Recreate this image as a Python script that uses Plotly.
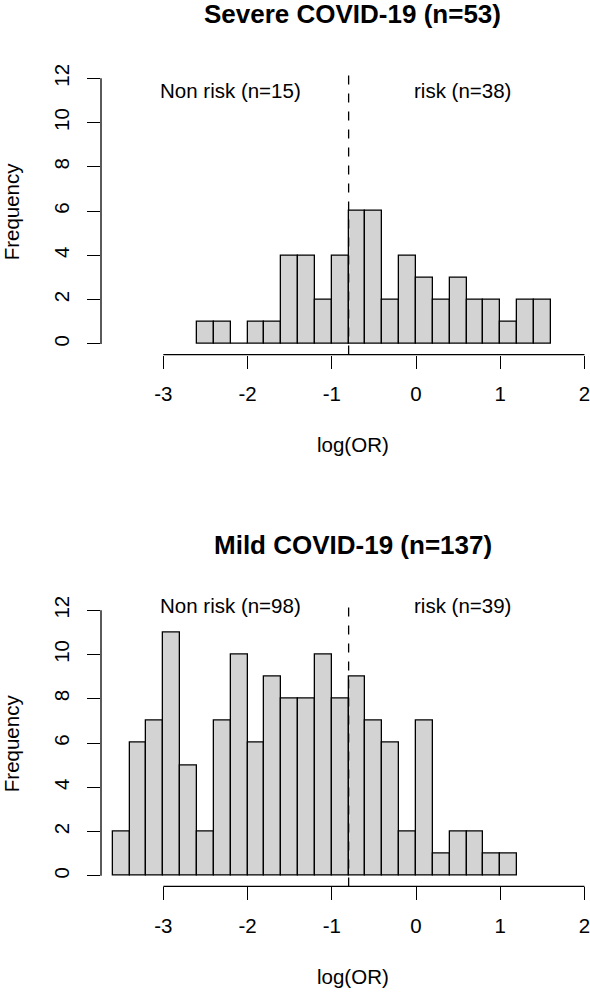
import plotly.graph_objects as go

# ---- data ----
bin_width = 0.2
severe_left_edges = [-2.6, -2.4, -2.2, -2.0, -1.8, -1.6, -1.4, -1.2, -1.0, -0.8, -0.6,
                     -0.4, -0.2, 0.0, 0.2, 0.4, 0.6, 0.8, 1.0, 1.2, 1.4]
severe_counts = [1, 1, 0, 1, 1, 4, 4, 2, 4, 6, 6, 2, 4, 3, 2, 3, 2, 2, 1, 2, 2]

mild_left_edges = [-3.6, -3.4, -3.2, -3.0, -2.8, -2.6, -2.4, -2.2, -2.0, -1.8, -1.6, -1.4,
                   -1.2, -1.0, -0.8, -0.6, -0.4, -0.2, 0.0, 0.2, 0.4, 0.6, 0.8, 1.0]
mild_counts = [2, 6, 7, 11, 5, 2, 7, 10, 6, 9, 8, 8, 10, 8, 9, 7, 6, 2, 7, 1, 2, 2, 1, 1]

cutoff = -0.8
x_ticks = [-3, -2, -1, 0, 1, 2]
y_ticks = [0, 2, 4, 6, 8, 10, 12]

titles = ["Severe COVID-19 (n=53)", "Mild COVID-19 (n=137)"]
left_labels = ["Non risk (n=15)", "Non risk (n=98)"]
right_labels = ["risk (n=38)", "risk (n=39)"]
label_y = [11.45, 12.2]

# ---- layout constants ----
W, H = 590, 992
L = 101
FONT = "Liberation Sans"
FS = 20.5
xr = [-3.74, -3.74 + (W - L) / 84.4]
yr = [-0.48, 12.48]
panels = [(64, 352), (598, 886)]   # pixel top/bottom of each plot region
title_px = [10, 543]

fig = go.Figure()
layout_axes = {}
annotations = []
shapes = []

datasets = [(severe_left_edges, severe_counts), (mild_left_edges, mild_counts)]
for i, ((edges, counts), (ptop, pbot)) in enumerate(zip(datasets, panels)):
    xa = "x" if i == 0 else "x2"
    ya = "y" if i == 0 else "y2"
    centers = [e + bin_width / 2 for e in edges]
    fig.add_trace(go.Bar(
        x=centers, y=counts, width=bin_width,
        marker=dict(color="#d3d3d3", line=dict(color="black", width=1.3)),
        xaxis=xa, yaxis=ya, showlegend=False, hoverinfo="x+y",
    ))
    dom = [1 - pbot / H, 1 - ptop / H]
    xkey = "xaxis" if i == 0 else "xaxis2"
    ykey = "yaxis" if i == 0 else "yaxis2"
    layout_axes[xkey] = dict(
        range=xr, anchor=ya, showgrid=False, zeroline=False, showline=False,
        ticks="outside", ticklen=13, tickwidth=1.3, tickcolor="black",
        tickvals=x_ticks, ticktext=[str(v) for v in x_ticks],
        tickfont=dict(family=FONT, size=FS, color="black"),
        ticklabelstandoff=8, ticklabeloverflow="allow",
    )
    layout_axes[ykey] = dict(
        range=yr, domain=dom, anchor=xa, showgrid=False, zeroline=False, showline=False,
        ticks="outside", ticklen=13, tickwidth=1.3, tickcolor="black",
        tickvals=y_ticks, ticktext=[str(v) for v in y_ticks], tickangle=-90,
        tickfont=dict(family=FONT, size=FS, color="black"),
        ticklabelstandoff=10, ticklabeloverflow="allow",
    )
    xref = "x" if i == 0 else "x2"
    yref = "y" if i == 0 else "y2"
    # axis lines (R style, spanning the tick range only)
    shapes.append(dict(type="line", xref=xref, yref=f"{yref} domain",
                       x0=x_ticks[0], x1=x_ticks[-1], y0=0, y1=0,
                       line=dict(color="black", width=1.3)))
    shapes.append(dict(type="line", xref=f"{xref} domain", yref=yref,
                       x0=0, x1=0, y0=y_ticks[0], y1=y_ticks[-1],
                       line=dict(color="black", width=1.3)))
    # cutoff line
    shapes.append(dict(type="line", xref=xref, yref=f"{yref} domain",
                       x0=cutoff, x1=cutoff, y0=0, y1=1, layer="above",
                       line=dict(color="black", width=1.3, dash="dash")))
    # texts
    annotations.append(dict(xref=xref, yref=yref, x=-2.2, y=label_y[i], text=left_labels[i],
                            showarrow=False, xanchor="center", yanchor="middle",
                            font=dict(family=FONT, size=FS, color="black")))
    annotations.append(dict(xref=xref, yref=yref, x=0.55, y=label_y[i], text=right_labels[i],
                            showarrow=False, xanchor="center", yanchor="middle",
                            font=dict(family=FONT, size=FS, color="black")))
    annotations.append(dict(xref=xref, yref="paper", x=-0.75, y=1 - title_px[i] / H,
                            text=f"<b>{titles[i]}</b>", showarrow=False,
                            xanchor="center", yanchor="middle",
                            font=dict(family=FONT, size=26, color="black")))
    annotations.append(dict(xref=xref, yref="paper", x=-0.75, y=1 - (pbot + 90) / H,
                            text="log(OR)", showarrow=False,
                            xanchor="center", yanchor="middle",
                            font=dict(family=FONT, size=FS, color="black")))
    annotations.append(dict(xref="paper", yref="paper", x=(11 - L) / (W - L),
                            y=1 - (ptop + pbot) / 2 / H, text="Frequency", textangle=-90,
                            showarrow=False, xanchor="center", yanchor="middle",
                            font=dict(family=FONT, size=FS, color="black")))

fig.update_layout(
    width=W, height=H,
    margin=dict(l=L, r=0, t=0, b=0),
    plot_bgcolor="white", paper_bgcolor="white",
    bargap=0, annotations=annotations, shapes=shapes,
    **layout_axes,
)
fig.write_html("out.html", config={"displayModeBar": False},
               post_script="document.body.style.margin='0';")
